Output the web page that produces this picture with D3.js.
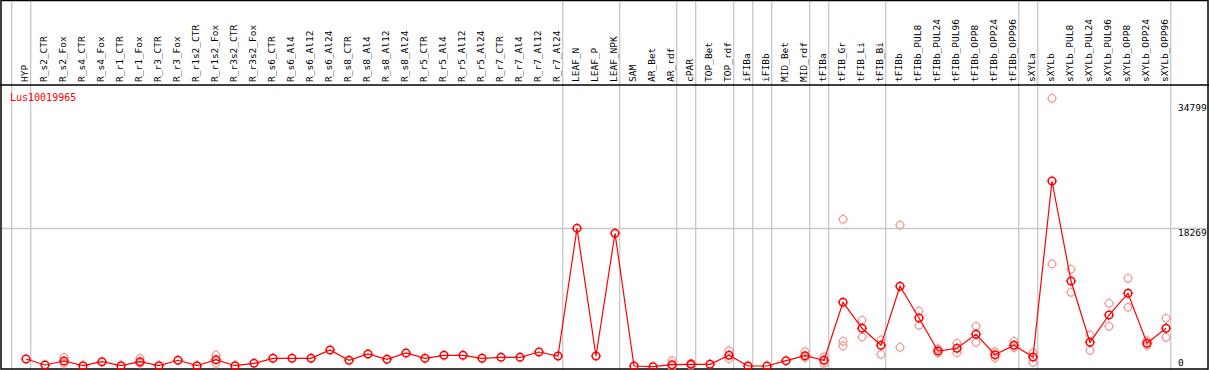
<!DOCTYPE html>
<html>
<head>
<meta charset="utf-8">
<script src="https://cdn.jsdelivr.net/npm/d3@7/dist/d3.min.js"></script>
<style>
  body { margin: 0; background: #fff; }
  text { font-family: "DejaVu Sans Mono", monospace; }
</style>
</head>
<body>
<script>

// categories (sample names):
var samples = ["HYP",
  "R_s2_CTR","R_s2_Fox","R_s4_CTR","R_s4_Fox","R_r1_CTR","R_r1_Fox","R_r3_CTR","R_r3_Fox",
  "R_r1s2_CTR","R_r1s2_Fox","R_r3s2_CTR","R_r3s2_Fox",
  "R_s6_CTR","R_s6_Al4","R_s6_Al12","R_s6_Al24","R_s8_CTR","R_s8_Al4","R_s8_Al12","R_s8_Al24",
  "R_r5_CTR","R_r5_Al4","R_r5_Al12","R_r5_Al24","R_r7_CTR","R_r7_Al4","R_r7_Al12","R_r7_Al24",
  "LEAF_N","LEAF_P","LEAF_NPK",
  "SAM","AR_Bet","AR_rdf","cPAR","TOP_Bet","TOP_rdf","iFIBa","iFIBb","MID_Bet","MID_rdf",
  "tFIBa","tFIB_Gr","tFIB_Li","tFIB_Bi",
  "tFIBb","tFIBb_PUL8","tFIBb_PUL24","tFIBb_PUL96","tFIBb_OPP8","tFIBb_OPP24","tFIBb_OPP96",
  "sXYLa","sXYLb","sXYLb_PUL8","sXYLb_PUL24","sXYLb_PUL96","sXYLb_OPP8","sXYLb_OPP24","sXYLb_OPP96"];

// number of samples in each group (grey separators between groups):
var groupSizes = [1, 28, 3, 3, 1, 2, 1, 1, 2, 1, 3, 7, 1, 7];

// mean expression per sample:
var meanValues = [1054,
  263, 790, 171, 698, 171, 698, 171, 883,
  171, 962, 171, 487,
  1146, 1146, 1146, 2239, 883, 1712, 1014, 1844,
  1146, 1541, 1541, 1146, 1278, 1278, 1976, 1449,
  18269, 1449, 17611,
  132, 40, 303, 356, 356, 1541, 132, 132, 830, 1488,
  883, 8522, 5098, 2858,
  10630, 6454, 2108, 2463, 4307, 1620, 2858,
  1317, 24500, 11328, 3253, 6849, 9708, 3122, 5098];

// individual replicates (only where they show apart from the mean):
var replicates = [[],
  [], [1278, 487], [], [], [], [1146, 487], [], [],
  [], [1541, 487], [], [],
  [], [], [], [], [], [], [], [],
  [], [], [], [], [], [], [], [],
  [], [], [],
  [], [], [830, 40], [487, 224], [], [2147, 1093], [], [], [], [2015, 1225],
  [1357, 487], [19455, 3385, 2766], [6151, 3952], [3556, 1673],
  [18704, 2595], [7376, 5493], [2371, 1844], [3122, 1884], [5361, 3253], [2015, 1225], [3385, 2542],
  [1884, 619], [35394, 13567], [12869, 9840], [4215, 2200], [8391, 5361], [11684, 7864], [3464, 2858], [6415, 3912]];

// gene name and y tick labels:
var geneName = "Lus10019965";
var yTicks = [0, 18269, 34799];


window.onload = function() {
  drawChart();
};


function drawChart() {

  // svg size:
  var w_svg = 1209;
  var h_svg = 370;
  var headerBottom = 85;

  var red = "#ff0000";
  var pale = "#f09a9a";
  var grey = "#c8c8c8";

  var svg = d3.select("body")
    .append("svg")
      .attr("width", w_svg)
      .attr("height", h_svg);

  // scales:
  var xScale = d3.scalePoint().domain(samples).range([26, 1166]);
  var step = xScale.step();
  var yScale = d3.scaleLinear().domain([0, yTicks[2]]).range([367, 102.8]);

  // horizontal grid line at middle tick:
  svg.append("line")
    .attr("x1", 1).attr("x2", w_svg - 1)
    .attr("y1", Math.round(yScale(yTicks[1])) + 0.5)
    .attr("y2", Math.round(yScale(yTicks[1])) + 0.5)
    .attr("stroke", grey)
    .attr("stroke-width", 1.5);

  // group separators (one before first group, one after each group):
  var sepIndex = [-1];
  var acc = -1;
  groupSizes.forEach(function(n) { acc += n; sepIndex.push(acc); });

  svg.selectAll(".sep")
    .data(sepIndex)
    .enter()
    .append("line")
      .attr("class", "sep")
      .attr("x1", function(i) { return xScale(samples[0]) + i * step + 4.7; })
      .attr("x2", function(i) { return xScale(samples[0]) + i * step + 4.7; })
      .attr("y1", 0)
      .attr("y2", h_svg)
      .attr("stroke", grey)
      .attr("stroke-width", 1.3);

  // frame and header line:
  svg.append("rect")
    .attr("x", 1).attr("y", 0.5)
    .attr("width", w_svg - 2).attr("height", h_svg - 1.5)
    .attr("fill", "none")
    .attr("stroke", "#000")
    .attr("stroke-width", 1.5);

  svg.append("line")
    .attr("x1", 0).attr("x2", w_svg)
    .attr("y1", headerBottom).attr("y2", headerBottom)
    .attr("stroke", "#000")
    .attr("stroke-width", 1.5);

  // sample labels (rotated):
  svg.selectAll(".lab")
    .data(samples)
    .enter()
    .append("text")
      .attr("class", "lab")
      .attr("transform", function(d) {
        return "translate(" + (xScale(d) + 2) + "," + (headerBottom - 3) + ") rotate(-90)";
      })
      .style("font-size", "9.5px")
      .attr("fill", "#000")
      .text(function(d) { return d; });

  // gene name:
  svg.append("text")
    .attr("x", 10)
    .attr("y", 101)
    .style("font-size", "10px")
    .attr("fill", red)
    .text(geneName);

  // y tick labels:
  svg.selectAll(".ytick")
    .data(yTicks)
    .enter()
    .append("text")
      .attr("class", "ytick")
      .attr("x", 1178)
      .attr("y", function(d) { return Math.min(yScale(d) + 8, 366); })
      .style("font-size", "9.5px")
      .attr("fill", "#000")
      .text(function(d) { return d; });

  // marker: circle with small ticks
  function marker(g, color, width) {
    g.append("circle")
      .attr("r", 3.8)
      .attr("fill", "none")
      .attr("stroke", color)
      .attr("stroke-width", width);
    g.append("path")
      .attr("d", "M0,-5.3V-4.3M0,4.3V5.3M-5.3,0H-4.3M4.3,0H5.3")
      .attr("stroke", color)
      .attr("stroke-width", 1);
  }

  // replicate points:
  var repData = [];
  replicates.forEach(function(reps, i) {
    reps.forEach(function(v) { repData.push([samples[i], v]); });
  });

  svg.selectAll(".rep")
    .data(repData)
    .enter()
    .append("g")
      .attr("class", "rep")
      .attr("transform", function(d) { return "translate(" + xScale(d[0]) + "," + yScale(d[1]) + ")"; })
      .each(function() { marker(d3.select(this), pale, 1.2); });

  // mean line:
  var line = d3.line()
    .x(function(d, i) { return xScale(samples[i]); })
    .y(function(d) { return yScale(d); });

  svg.append("path")
    .datum(meanValues)
    .attr("d", line)
    .attr("fill", "none")
    .attr("stroke", red)
    .attr("stroke-width", 1.2);

  // mean points:
  svg.selectAll(".mean")
    .data(meanValues)
    .enter()
    .append("g")
      .attr("class", "mean")
      .attr("transform", function(d, i) { return "translate(" + xScale(samples[i]) + "," + yScale(d) + ")"; })
      .each(function() { marker(d3.select(this), red, 1.5); });
}
</script>
</body>
</html>
